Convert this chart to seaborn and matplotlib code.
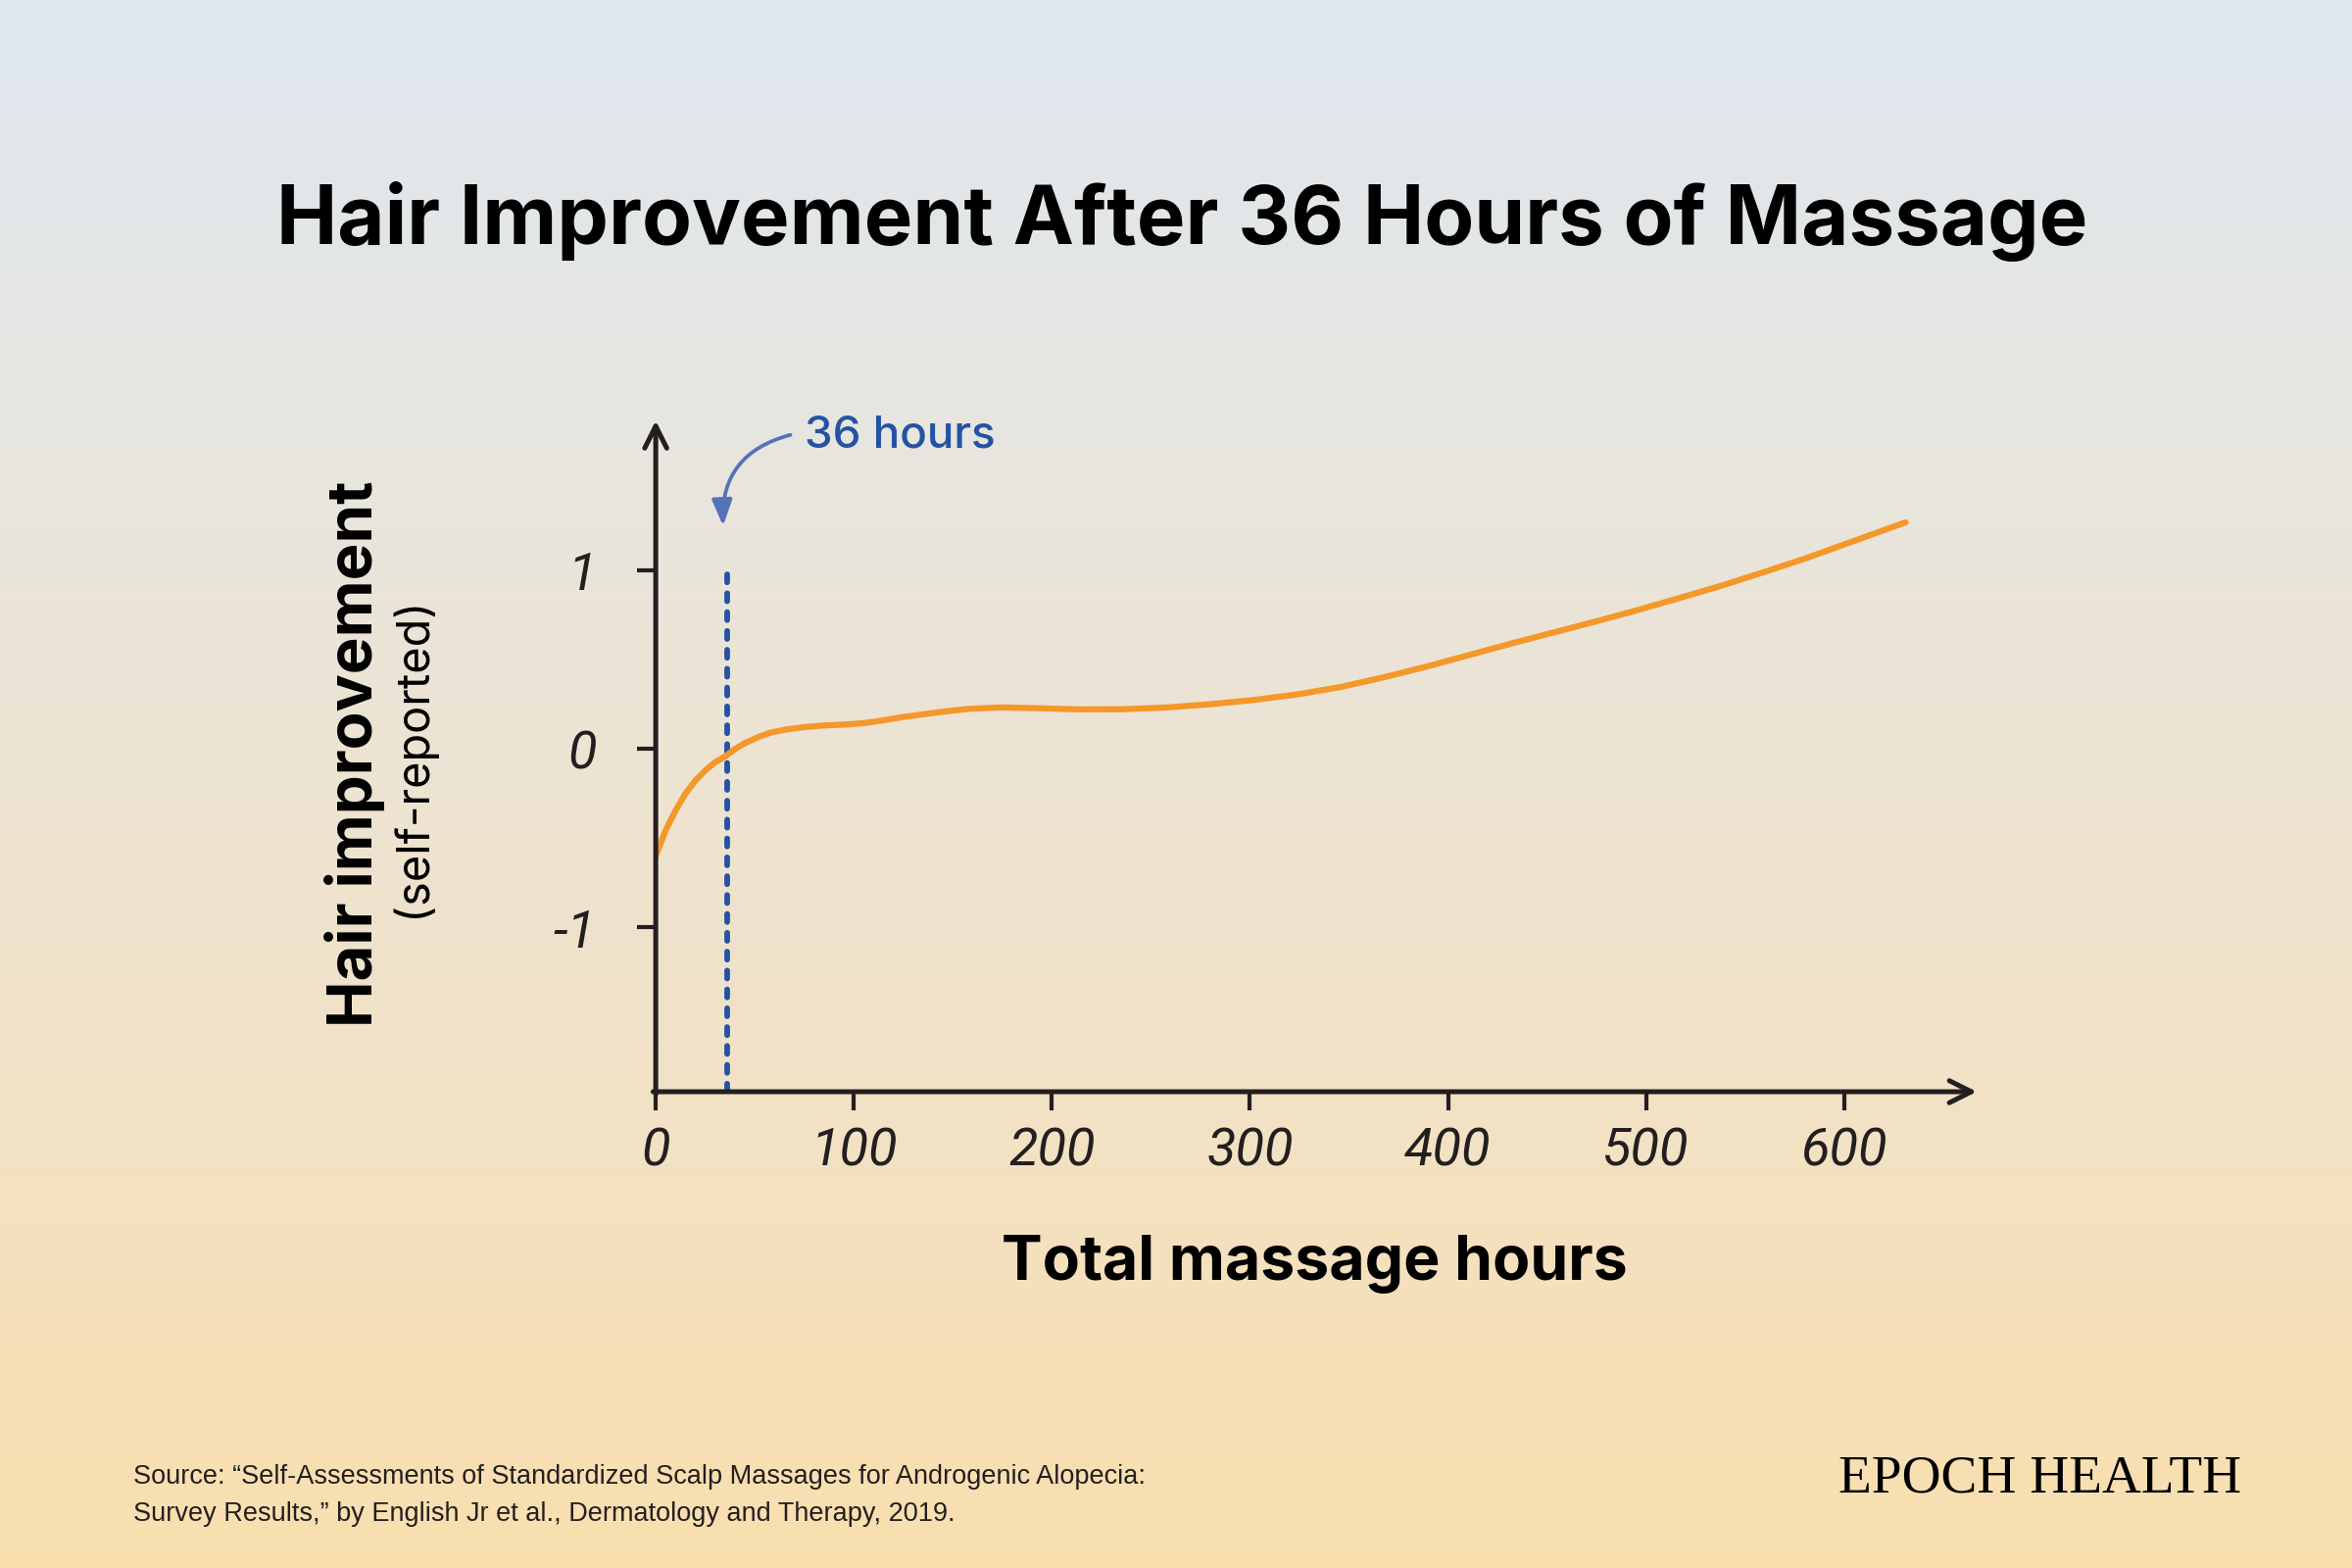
import numpy as np
import matplotlib
matplotlib.use("Agg")
import matplotlib.pyplot as plt
from matplotlib.colors import LinearSegmentedColormap
import seaborn as sns

# ──────────────────────────────────────────────
# Data
# ──────────────────────────────────────────────
hours = [0, 5, 10, 15, 20, 25, 30, 35, 40, 45, 52, 58, 65, 75, 85, 95, 105,
         114, 124, 136, 147, 158, 174, 192, 214, 236, 258, 280, 302, 324, 346,
         368, 391, 413, 435, 461, 477, 493, 515, 538, 560, 581, 606, 631]
improvement = [-0.60, -0.455, -0.345, -0.25, -0.177, -0.12, -0.074, -0.042,
               0.0, 0.033, 0.068, 0.092, 0.108, 0.123, 0.132, 0.137, 0.145,
               0.159, 0.178, 0.196, 0.212, 0.225, 0.233, 0.229, 0.222, 0.223,
               0.233, 0.251, 0.275, 0.306, 0.348, 0.403, 0.467, 0.534, 0.60,
               0.675, 0.722, 0.77, 0.84, 0.915, 0.993, 1.07, 1.17, 1.27]
marker_hours = 36
marker_top = 1.0

x_ticks = [0, 100, 200, 300, 400, 500, 600]
x_ticklabels = ["0", "100", "200", "300", "400", "500", "600"]
y_ticks = [-1, 0, 1]
y_ticklabels = ["-1", "0", "1"]

title = "Hair Improvement After 36 Hours of Massage"
source = ("Source: \u201cSelf-Assessments of Standardized Scalp Massages for Androgenic Alopecia:\n"
          "Survey Results,\u201d by English Jr et al., Dermatology and Therapy, 2019.")

# ──────────────────────────────────────────────
# Style
# ──────────────────────────────────────────────
sns.set_theme(style="white")
plt.rcParams["font.family"] = ["Inter", "DejaVu Sans"]

INK = "#231f20"
ORANGE = "#f4982a"
BLUE = "#2553a3"

fig = plt.figure(figsize=(16, 16 / 1.5), dpi=150)

# background gradient
bg = fig.add_axes([0, 0, 1, 1], zorder=-10)
grad_cmap = LinearSegmentedColormap.from_list(
    "bg", ["#dfe7f0", "#e9e5dc", "#f1e2c8", "#f9dfae"])
bg.imshow(np.linspace(0, 1, 256).reshape(-1, 1), aspect="auto", cmap=grad_cmap,
          extent=[0, 1, 0, 1], origin="upper")
bg.set_axis_off()

ax = fig.add_axes([0.2788, 0.30375, 0.5617, 0.428])
ax.patch.set_alpha(0)

sns.lineplot(x=hours, y=improvement, ax=ax, color=ORANGE, lw=3.0,
             solid_capstyle="round", solid_joinstyle="round", zorder=3)

ax.set_xlim(0, 667)
ax.set_ylim(-1.92, 1.84)

dash = ax.vlines(marker_hours, ax.get_ylim()[0], marker_top, color=BLUE, lw=2.8,
                 linestyles=(0, (1.4, 1.9)), zorder=2)
dash.set_capstyle("round")

# axes with open arrowheads
for side in ["top", "right", "left", "bottom"]:
    ax.spines[side].set_visible(False)
arrow_kw = dict(arrowstyle="->,head_length=0.9,head_width=0.45", color=INK,
                lw=2.4, shrinkA=0, shrinkB=0)
ax.annotate("", xy=(1, 0), xytext=(-0.002, 0), xycoords="axes fraction",
            arrowprops=arrow_kw, zorder=4)
ax.annotate("", xy=(0, 1), xytext=(0, -0.004), xycoords="axes fraction",
            arrowprops=arrow_kw, zorder=4)

ax.set_xticks(x_ticks)
ax.set_xticklabels(x_ticklabels)
ax.set_yticks(y_ticks)
ax.set_yticklabels(y_ticklabels)
ax.tick_params(axis="x", direction="out", length=9, width=2.0, color=INK,
               pad=8, bottom=True)
ax.tick_params(axis="y", direction="out", length=9, width=2.0, color=INK,
               pad=20, left=True)
for lab in ax.get_xticklabels() + ax.get_yticklabels():
    lab.set_fontfamily(["Roboto", "DejaVu Sans"])
    lab.set_fontstyle("italic")
    lab.set_fontweight("normal")
    lab.set_fontsize(26)
    lab.set_color(INK)
ax.set_xlabel("")
ax.set_ylabel("")

# curved callout arrow
ax.annotate("", xy=(34, 1.25), xytext=(68, 1.76),
            arrowprops=dict(arrowstyle="-|>,head_length=0.9,head_width=0.35",
                            connectionstyle="arc3,rad=0.4", color="#5572b9",
                            lw=1.8, shrinkA=0, shrinkB=0))
fig.text(0.342, 0.722, "36 hours", color=BLUE, fontsize=22, fontweight="medium",
         ha="left", va="center")

# titles and labels
fig.text(0.5025, 0.859, title, ha="center", va="center", fontsize=40,
         fontweight="bold", color="black")
fig.text(0.151, 0.519, "Hair improvement", rotation=90, ha="center",
         va="center", fontsize=30.5, fontweight="bold", color="black")
fig.text(0.1754, 0.517, "(self-reported)", rotation=90, ha="center",
         va="center", fontsize=22.5, color="black")
fig.text(0.559, 0.194, "Total massage hours", ha="center", va="center",
         fontsize=30, fontweight="bold", color="black")

fig.text(0.0567, 0.046, source, ha="left", va="center", fontsize=13,
         family=["Liberation Sans", "DejaVu Sans"], color=INK, linespacing=1.6)
fig.text(0.953, 0.057, "EPOCH HEALTH", ha="right", va="center", fontsize=26.5,
         family=["Liberation Serif", "DejaVu Serif"], color="black")

fig.savefig("out.png", dpi=150)
